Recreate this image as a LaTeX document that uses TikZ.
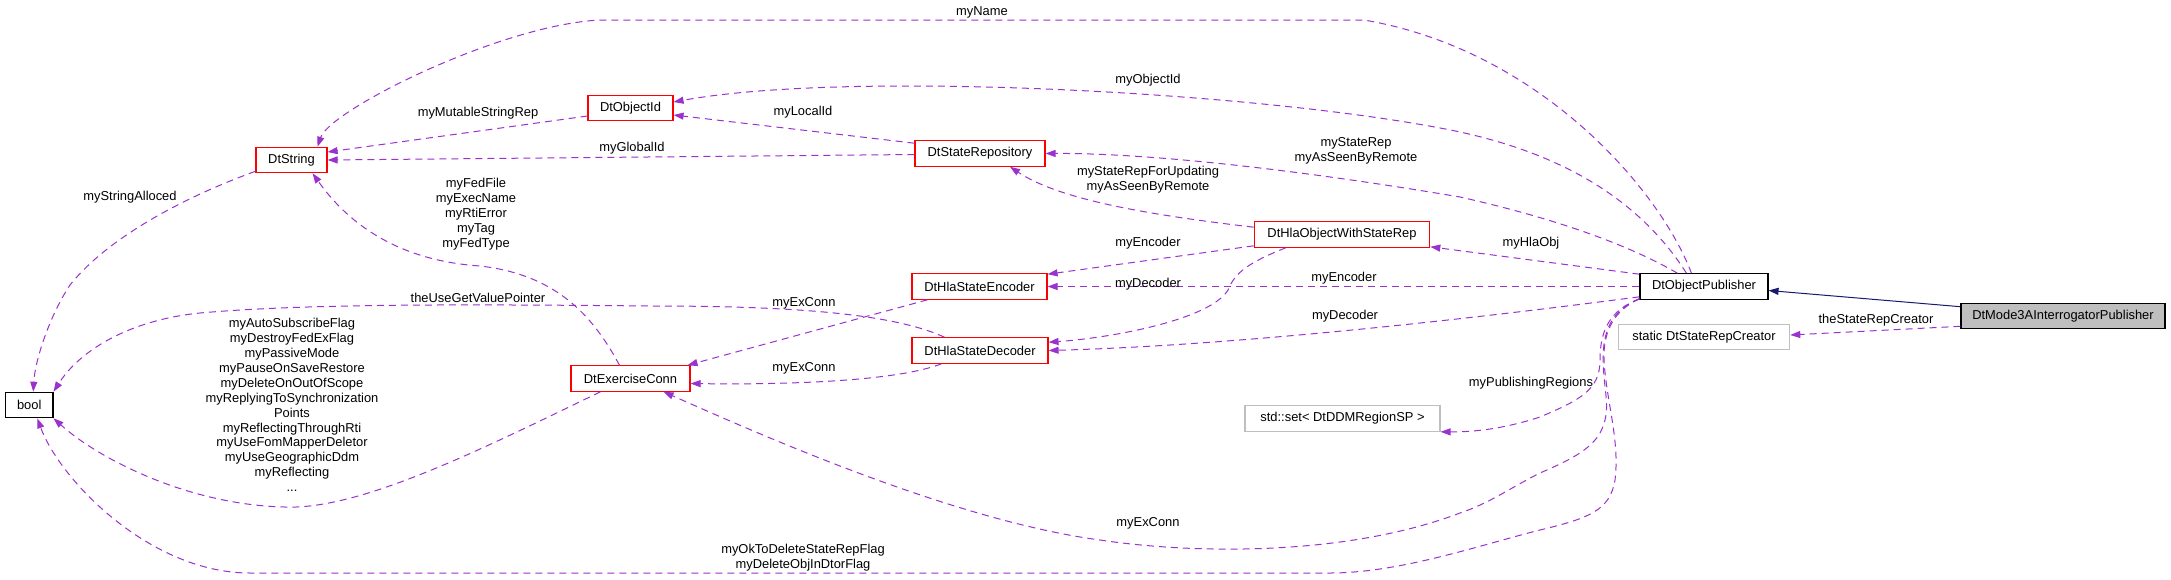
\documentclass[tikz,border=0pt]{standalone}
\usepackage{fontspec}
\setmainfont{Liberation Sans}
\usetikzlibrary{arrows.meta,calc}
\definecolor{edgec}{HTML}{9A32CD}
\definecolor{navyc}{HTML}{191970}
\definecolor{boxgray}{HTML}{BFBFBF}
\newcommand\fsz{\fontsize{12.9}{14.9}\selectfont}
\tikzset{
 cls/.style={draw=black, line width=1.1pt, fill=white, inner sep=0pt, minimum height=25.5pt, font=\fsz, align=center},
 redcls/.style={cls, draw=red},
 graycls/.style={cls, draw=boxgray},
 dep/.style={draw=edgec, line width=1pt, dash pattern=on 7pt off 5pt, -{Triangle[length=10pt,width=7pt]}},
 inh/.style={draw=navyc, line width=1pt, -{Triangle[length=10pt,width=7pt]}},
 lbl/.style={font=\fsz, align=center, inner sep=0pt}
}
\begin{document}
\begin{tikzpicture}[x=1pt,y=-1pt]
\fill[white] (0,0) rectangle (2171,579);
\useasboundingbox (0,0) rectangle (2171,579);
% nodes
\node[cls, minimum width=47.5pt] (bool) at (29.25,405) {bool};
\node[redcls, minimum width=71pt] (str) at (291.5,160) {DtString};
\node[redcls, minimum width=85pt] (oid) at (630.5,108) {DtObjectId};
\node[redcls, minimum width=119pt] (exc) at (630.5,378.5) {DtExerciseConn};
\node[redcls, minimum width=130pt] (srep) at (980,153.5) {DtStateRepository};
\node[redcls, minimum width=175.5pt] (hla) at (1342,234.5) {DtHlaObjectWithStateRep};
\node[redcls, minimum width=135pt] (enc) at (979.5,286.5) {DtHlaStateEncoder};
\node[redcls, minimum width=136pt] (dec) at (980,350.5) {DtHlaStateDecoder};
\node[graycls, minimum width=195pt] (set) at (1342.5,418.5) {std::set< DtDDMRegionSP >};
\node[cls, minimum width=128pt] (pub) at (1704,286.5) {DtObjectPublisher};
\node[graycls, minimum width=171.5pt] (src) at (1704,337) {static DtStateRepCreator};
\node[cls, fill=boxgray, minimum width=204pt] (m3a) at (2063,316) {DtMode3AInterrogatorPublisher};
% edges
\draw[dep] ($(pub.north west)+(52,0)$) .. controls (1660,190) and (1540,50) .. (1364,20) -- (600,20) .. controls (500,25) and (330,110) .. ($(str.north east)+(-10,0)$);
\draw[dep] ($(pub.north west)+(47,0)$) .. controls (1640,200) and (1560,150) .. (1440,128) .. controls (1250,92) and (850,70) .. ($(oid.east)+(0,-6)$);
\draw[dep] ($(pub.north west)+(38,0)$) .. controls (1620,240) and (1540,215) .. (1460,197) .. controls (1300,170) and (1150,153) .. (srep.east);
\draw[dep] ($(pub.north west)+(0,1)$) -- ($(hla.south east)+(0,-1)$);
\draw[dep] (pub.west) -- (enc.east);
\draw[dep] ($(pub.south west)+(0,-3)$) .. controls (1500,315) and (1250,345) .. (dec.east);
\draw[dep] ($(hla.north west)+(0,6)$) .. controls (1150,215) and (1060,200) .. ($(srep.south)+(30,0)$);
\draw[dep] ($(hla.south west)+(0,-2)$) -- ($(enc.north east)+(0,1)$);
\draw[dep] ($(hla.south west)+(32,0)$) .. controls (1250,262) and (1235,272) .. (1228,290) .. controls (1210,320) and (1110,338) .. ($(dec.north east)+(0,5)$);
\draw[dep] ($(enc.south west)+(16,0)$) -- ($(exc.north east)+(-3,0)$);
\draw[dep] ($(dec.south west)+(30,0)$) .. controls (900,380) and (800,385) .. ($(exc.east)+(0,5)$);
\draw[dep] ($(dec.north west)+(33,0)$) .. controls (890,312) and (780,306) .. (650,306) .. controls (450,304) and (300,304) .. (200,313) .. controls (130,320) and (80,350) .. (bool.north east);
\draw[dep] ($(exc.south west)+(30,0)$) .. controls (480,450) and (360,510) .. (285,507) .. controls (190,505) and (100,460) .. (bool.south east);
\draw[dep] ($(exc.north)+(-11,0)$) .. controls (595,320) and (560,275) .. (480,266) .. controls (420,262) and (360,240) .. ($(str.south east)+(-15,0)$);
\draw[dep] ($(str.south west)+(0,-2)$) .. controls (190,195) and (110,235) .. (70,285) .. controls (50,315) and (35,360) .. ($(bool.north)+(4,0)$);
\draw[dep] ($(oid.west)+(0,8)$) -- ($(str.east)+(0,-8)$);
\draw[dep] ($(srep.west)+(0,1)$) -- (str.east);
\draw[dep] ($(srep.north west)+(0,3)$) -- ($(oid.east)+(0,7)$);
\draw[inh] ($(m3a.north west)+(0,4)$) -- ($(pub.east)+(0,4)$);
\draw[dep] ($(m3a.south west)+(0,-3)$) -- ($(src.east)+(0,-2)$);
\draw[dep] ($(pub.south west)+(0,-1)$) .. controls (1610,310) and (1600,330) .. (1600,360) .. controls (1600,390) and (1580,400) .. (1540,417) .. controls (1500,430) and (1470,432) .. (set.south east);
\draw[dep] ($(pub.south west)+(0,-1)$) .. controls (1612,310) and (1603,330) .. (1603,360) .. controls (1604,395) and (1612,410) .. (1600,433) .. controls (1590,450) and (1570,460) .. (1540,473) .. controls (1510,488) and (1490,503) .. (1460,513) .. controls (1350,555) and (1200,555) .. (1100,540) .. controls (950,520) and (750,430) .. ($(exc.south east)+(-27,0)$);
\draw[dep] ($(pub.south west)+(0,-1)$) .. controls (1615,310) and (1603,330) .. (1604,360) .. controls (1606,400) and (1620,440) .. (1615,480) .. controls (1610,510) and (1590,518) .. (1540,530) .. controls (1480,545) and (1400,573) .. (1330,573) -- (250,573) .. controls (150,573) and (60,480) .. ($(bool.south)+(8,0)$);
% labels
\node[lbl] (lName) at (982,12) {myName};
\node[lbl] (lObjId) at (1148,80) {myObjectId};
\node[lbl] (lStateRep) at (1356,151) {myStateRep\\myAsSeenByRemote};
\node[lbl] (lHlaObj) at (1531,243) {myHlaObj};
\node[lbl] (lEnc1) at (1344,278) {myEncoder};
\node[lbl] (lDec1) at (1345,316) {myDecoder};
\node[lbl] (lSRU) at (1148,180) {myStateRepForUpdating\\myAsSeenByRemote};
\node[lbl] (lEnc2) at (1148,243) {myEncoder};
\node[lbl] (lDec2) at (1148,284) {myDecoder};
\node[lbl] (lEx1) at (804,303) {myExConn};
\node[lbl] (lEx2) at (804,368) {myExConn};
\node[lbl] (lEx3) at (1148,523) {myExConn};
\node[lbl] (lUGV) at (478,298) {theUseGetValuePointer};
\node[lbl] (lFlags) at (292,405) {myAutoSubscribeFlag\\myDestroyFedExFlag\\myPassiveMode\\myPauseOnSaveRestore\\myDeleteOnOutOfScope\\myReplyingToSynchronization\\Points\\myReflectingThroughRti\\myUseFomMapperDeletor\\myUseGeographicDdm\\myReflecting\\...};
\node[lbl] (lFed) at (476,214) {myFedFile\\myExecName\\myRtiError\\myTag\\myFedType};
\node[lbl] (lSA) at (130,197) {myStringAlloced};
\node[lbl] (lMSR) at (478,113) {myMutableStringRep};
\node[lbl] (lGid) at (632,148) {myGlobalId};
\node[lbl] (lLid) at (803,112) {myLocalId};
\node[lbl] (lSRC) at (1876,320) {theStateRepCreator};
\node[lbl] (lPR) at (1531,383) {myPublishingRegions};
\node[lbl] (lOk) at (803,558) {myOkToDeleteStateRepFlag\\myDeleteObjInDtorFlag};
\end{tikzpicture}
\end{document}
